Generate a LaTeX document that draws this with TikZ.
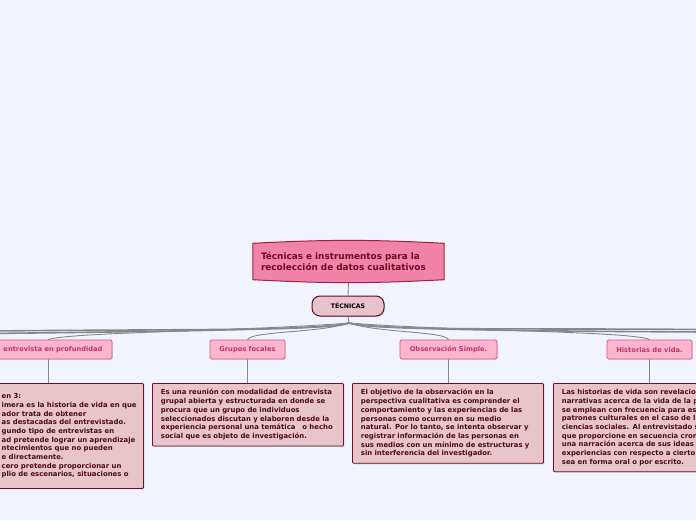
\documentclass[tikz,border=0pt]{standalone}
\usepackage{fontspec}
\setmainfont{DejaVu Sans}
\usetikzlibrary{shadows}

\definecolor{pagebg}{HTML}{F2F4FD}
\definecolor{titlefill}{HTML}{F283A8}
\definecolor{titleedge}{HTML}{A3213F}
\definecolor{titletext}{HTML}{6E0A25}
\definecolor{tecfill}{HTML}{E8C3CB}
\definecolor{tecedge}{HTML}{5C1020}
\definecolor{subfill}{HTML}{FFB5CE}
\definecolor{subedge}{HTML}{D9577F}
\definecolor{subtext}{HTML}{C2356A}
\definecolor{bodyfill}{HTML}{E8C5CB}
\definecolor{bodyedge}{HTML}{6B1227}
\definecolor{bodytext}{HTML}{4D0A17}
\definecolor{linkgray}{HTML}{878787}

\pgfdeclarelayer{paper}
\pgfdeclarelayer{background}
\pgfsetlayers{paper,background,main}

\begin{document}
\begin{tikzpicture}[x=1pt,y=-1pt,
    link/.style={draw=linkgray, line width=0.9pt},
    trunk/.style={draw=linkgray, line width=1.6pt},
    titlebox/.style={minimum width=191pt, minimum height=38pt, inner sep=0pt,
        text width=175pt, align=left, text=titletext,
        font=\fontsize{8.9}{11.8}\selectfont\bfseries},
    tecbox/.style={draw=tecedge, fill=tecfill, line width=1pt, rounded corners=8pt,
        minimum width=72pt, minimum height=20pt, inner sep=0pt,
        font=\fontsize{6.2}{7}\selectfont\bfseries,
        drop shadow={shadow xshift=1pt, shadow yshift=-1pt, opacity=0.3}},
    subbox/.style={draw=subedge, fill=subfill, text=subtext, line width=0.8pt,
        rounded corners=1.5pt, minimum height=19pt, inner sep=0pt,
        font=\fontsize{6.7}{8}\selectfont\bfseries,
        drop shadow={shadow xshift=0.8pt, shadow yshift=-0.8pt, opacity=0.2}},
    bodybox/.style={draw=bodyedge, fill=bodyfill, text=bodytext, line width=0.8pt,
        rounded corners=1pt, align=left, inner xsep=8.5pt, inner ysep=6pt,
        font=\fontsize{6.9}{8.7}\selectfont\bfseries,
        drop shadow={shadow xshift=1pt, shadow yshift=-1pt, opacity=0.35}},
]
\clip (0,0) rectangle (696,520);
\begin{pgfonlayer}{paper}
    \fill[pagebg] (0,0) rectangle (696,520);
\end{pgfonlayer}

% central topic
\node[titlebox] (title) at (348.5,261.5)
    {Técnicas e instrumentos para la\\recolección de datos cualitativos};
\node[tecbox] (tec) at (348,306) {TÉCNICAS};

% main branches
\node[subbox, minimum width=118pt] (entrevista) at (53,349.5) {entrevista en profundidad};
\node[subbox, minimum width=75pt] (grupos) at (247.5,349.5) {Grupos focales};
\node[subbox, minimum width=97pt] (observacion) at (448.5,349.5) {Observación Simple.};
\node[subbox, minimum width=85pt] (historias) at (649.5,349.5) {Historias de vida.};

% texts of the branches
\node[bodybox, anchor=north west, inner xsep=6pt, minimum width=148.5pt, minimum height=105pt] (entrevistaTxt) at (-5.5,383)
    {en 3:\\
     imera es la historia de vida en que\\
     ador trata de obtener\\
     as destacadas del entrevistado.\\
     gundo tipo de entrevistas en\\
     ad pretende lograr un aprendizaje\\
     ntecimientos que no pueden\\
     e directamente.\\
     cero pretende proporcionar un\\
     plio de escenarios, situaciones o};
\node[bodybox, anchor=north west, text width=174pt, minimum height=62pt] (gruposTxt) at (152,383)
    {Es una reunión con modalidad de entrevista\\
     grupal abierta y estructurada en donde se\\
     procura que un grupo de individuos\\
     seleccionados discutan y elaboren desde la\\
     experiencia personal una temática \ \ o hecho\\
     social que es objeto de investigación.};
\node[bodybox, anchor=north west, text width=174pt, minimum height=79pt] (observacionTxt) at (352,383)
    {El objetivo de la observación en la\\
     perspectiva cualitativa es comprender el\\
     comportamiento y las experiencias de las\\
     personas como ocurren en su medio\\
     natural. Por lo tanto, se intenta observar y\\
     registrar información de las personas en\\
     sus medios con un mínimo de estructuras y\\
     sin interferencia del investigador.};
\node[bodybox, anchor=north west, text width=180pt, minimum height=87pt] (historiasTxt) at (553,383)
    {Las historias de vida son revelacio\\
     narrativas acerca de la vida de la p\\
     se emplean con frecuencia para es\\
     patrones culturales en el caso de l\\
     ciencias sociales. Al entrevistado s\\
     que proporcione en secuencia cron\\
     una narración acerca de sus ideas\\
     experiencias con respecto a cierto\\
     sea en forma oral o por escrito.};

% connectors
\coordinate (split) at (349,323);
\coordinate (offleftA) at (-10,331);
\coordinate (offleftB) at (-10,333.5);
\coordinate (offrightA) at (706,329.5);
\coordinate (offrightB) at (706,332);
\begin{pgfonlayer}{background}
    \draw[link] (title.south) -- (tec.north);
    \draw[link] (tec.south) -- (split);
    \draw[trunk] (split) .. controls (320,331) and (200,329) .. (offleftA);
    \draw[trunk] (split) .. controls (330,329) and (200,331) .. (offleftB);
    \draw[trunk] (split) .. controls (380,331) and (500,328) .. (offrightA);
    \draw[trunk] (split) .. controls (370,329) and (500,331) .. (offrightB);
    \draw[link] (split) .. controls (250,331) and (70,332) .. ([xshift=-5pt]entrevista.north);
    \draw[link] (split) .. controls (320,333) and (252,331) .. (grupos.north);
    \draw[link] (split) .. controls (378,333) and (444,331) .. (observacion.north);
    \draw[link] (split) .. controls (450,331) and (632,331) .. (historias.north);
    \draw[link] ([xshift=-5pt]entrevista.south) -- ([xshift=-5pt]entrevista.south |- entrevistaTxt.north);
    \draw[link] (grupos.south) -- (grupos.south |- gruposTxt.north);
    \draw[link] (observacion.south) -- (observacion.south |- observacionTxt.north);
    \draw[link] (historias.south) -- (historias.south |- historiasTxt.north);
    % banner of the central topic
    \draw[draw=titleedge, fill=titlefill, line width=1pt]
        ([yshift=-1pt]title.north west) to[bend left=3] ([yshift=-1pt]title.north east)
        -- ([yshift=1pt]title.south east) to[bend left=3] ([yshift=1pt]title.south west) -- cycle;
\end{pgfonlayer}
\end{tikzpicture}
\end{document}
